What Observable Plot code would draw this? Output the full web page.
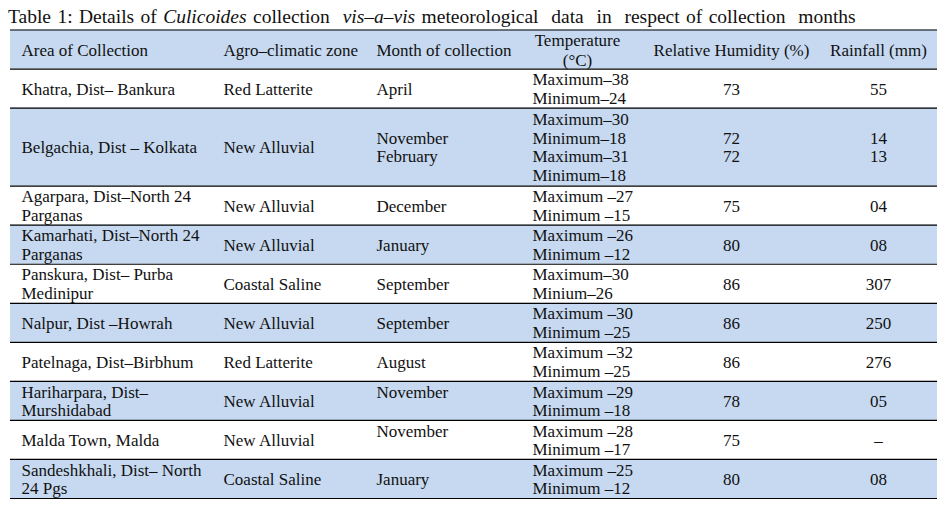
<!DOCTYPE html>
<html>
<head>
<meta charset="utf-8">
<script src="https://cdn.jsdelivr.net/npm/d3@7"></script>
<script src="https://cdn.jsdelivr.net/npm/@observablehq/plot@0.6"></script>
<style>
  html, body { margin: 0; padding: 0; background: #fff; }
  #title { height: 29px; overflow: hidden; box-sizing: border-box; padding: 7px 0 0 8px; font-family: "Liberation Serif", serif; font-size: 19.5px; line-height: 20px; color: #111; white-space: nowrap; word-spacing: 1.5px; }
  #chart svg { display: block; }
</style>
</head>
<body>
<div id="title">Table 1: Details of <i>Culicoides</i> collection &nbsp;<i>vis–a–vis</i> meteorological &nbsp;data &nbsp;in &nbsp;respect of collection &nbsp;months</div>
<div id="chart"></div>
<script>
// ---- data ----
const headers = ["Area of Collection", "Agro–climatic zone", "Month of collection", "Temperature\n(°C)", "Relative Humidity (%)", "Rainfall (mm)"];
const areas = [
  "Khatra, Dist– Bankura",
  "Belgachia, Dist – Kolkata",
  "Agarpara, Dist–North 24\nParganas",
  "Kamarhati, Dist–North 24\nParganas",
  "Panskura, Dist– Purba\nMedinipur",
  "Nalpur, Dist –Howrah",
  "Patelnaga, Dist–Birbhum",
  "Hariharpara, Dist–\nMurshidabad",
  "Malda Town, Malda",
  "Sandeshkhali, Dist– North\n24 Pgs"
];
const zones = ["Red Latterite", "New Alluvial", "New Alluvial", "New Alluvial", "Coastal Saline", "New Alluvial", "Red Latterite", "New Alluvial", "New Alluvial", "Coastal Saline"];
const months = ["April", "November\nFebruary", "December", "January", "September", "September", "August", "November\n", "November\n", "January"];
const temperatures = [
  "Maximum–38\nMinimum–24",
  "Maximum–30\nMinimum–18\nMaximum–31\nMinimum–18",
  "Maximum –27\nMinimum –15",
  "Maximum –26\nMinimum –12",
  "Maximum–30\nMinium–26",
  "Maximum –30\nMinimum –25",
  "Maximum –32\nMinimum –25",
  "Maximum –29\nMinimum –18",
  "Maximum –28\nMinimum –17",
  "Maximum –25\nMinimum –12"
];
const humidity = ["73", "72\n72", "75", "80", "86", "86", "86", "78", "75", "80"];
const rainfall = ["55", "14\n13", "04", "08", "307", "250", "276", "05", "–", "08"];
const rowLines = [2, 4, 2, 2, 2, 2, 2, 2, 2, 2];
const headerLines = 2;

// ---- layout ----
const colX = {area: 21, zone: 223, month: 376, temp: 532, tempHead: 577, rh: 731, rain: 878};
const tableLeft = 10, tableRight = 937;
const blue = "#c6d9f0";
const ink = "#111";

let acc = headerLines;
const rows = areas.map((a, i) => {
  const r = {area: a, zone: zones[i], month: months[i], temp: temperatures[i], rh: humidity[i], rain: rainfall[i], y0: acc, y1: acc + rowLines[i], i};
  acc += rowLines[i];
  return r;
});
const totalLines = acc;
const header = [{y0: 0, y1: headerLines, shaded: true}];
const bands = header.concat(rows.map(r => ({y0: r.y0, y1: r.y1, shaded: r.i % 2 === 1})));
const boundaries = [0, headerLines, ...rows.map(r => r.y1)];
const headerCells = [
  {text: headers[0], x: colX.area, anchor: "start"},
  {text: headers[1], x: colX.zone, anchor: "start"},
  {text: headers[2], x: colX.month, anchor: "start"},
  {text: headers[3], x: colX.tempHead, anchor: "middle"},
  {text: headers[4], x: colX.rh, anchor: "middle"},
  {text: headers[5], x: colX.rain, anchor: "middle"}
];
const mid = d => (d.y0 + d.y1) / 2;
const fs = 17, lh = 1.1;
const common = {y: mid, lineAnchor: "middle", fontSize: fs, lineHeight: lh, fill: ink};
const headCommon = {x: "x", text: "text", y: () => headerLines / 2, lineAnchor: "middle", fontSize: fs, lineHeight: 1.15, fill: ink};

const chart = Plot.plot({
  width: 950,
  height: 479,
  margin: 0,
  x: {type: "identity", axis: null},
  y: {domain: [0, totalLines], range: [0.5, 469], axis: null},
  style: {fontFamily: "'Liberation Serif', serif", background: "#fff", color: ink},
  marks: [
    Plot.rect(bands.filter(d => d.shaded), {x1: () => tableLeft, x2: () => tableRight, y1: "y0", y2: "y1", fill: blue}),
    Plot.ruleY(boundaries, {x1: tableLeft, x2: tableRight, stroke: "#000", strokeWidth: 1.2}),
    Plot.text(headerCells.filter(d => d.anchor === "start"), {...headCommon, textAnchor: "start"}),
    Plot.text(headerCells.filter(d => d.anchor === "middle"), {...headCommon, textAnchor: "middle"}),
    Plot.text(rows, {...common, x: () => colX.area, text: "area", textAnchor: "start"}),
    Plot.text(rows, {...common, x: () => colX.zone, text: "zone", textAnchor: "start"}),
    Plot.text(rows, {...common, x: () => colX.month, text: "month", textAnchor: "start"}),
    Plot.text(rows, {...common, x: () => colX.temp, text: "temp", textAnchor: "start"}),
    Plot.text(rows, {...common, x: () => colX.rh, text: "rh", textAnchor: "middle"}),
    Plot.text(rows, {...common, x: () => colX.rain, text: "rain", textAnchor: "middle"})
  ]
});
document.getElementById("chart").appendChild(chart);
</script>
</body>
</html>
